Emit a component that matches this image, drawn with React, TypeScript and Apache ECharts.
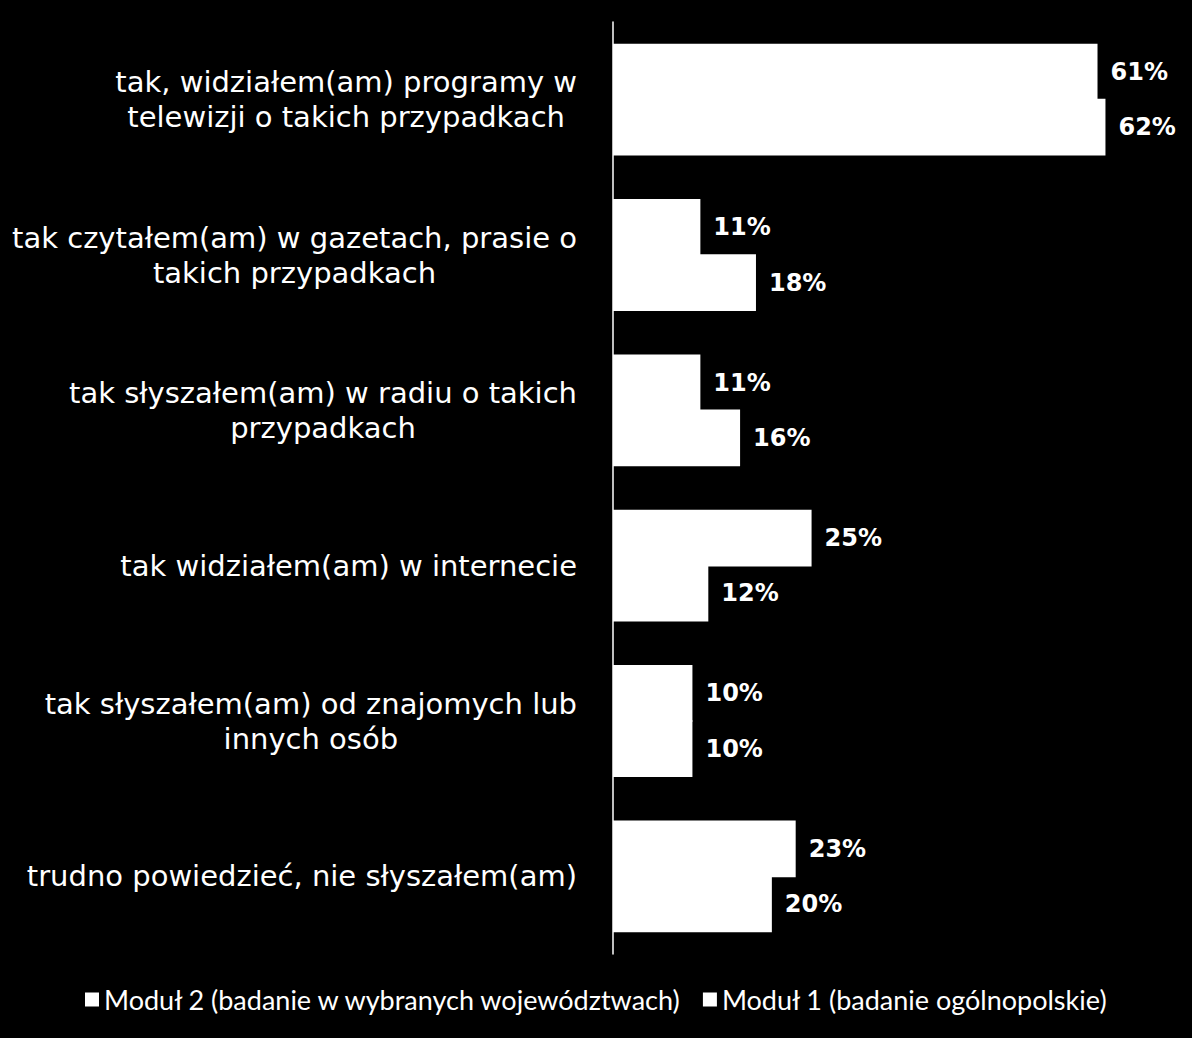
import { useEffect, useRef } from "react";
import * as echarts from "echarts";

const categories = [
  "tak, widziałem(am) programy w\ntelewizji o takich przypadkach",
  "tak czytałem(am) w gazetach, prasie o\ntakich przypadkach",
  "tak słyszałem(am) w radiu o takich\nprzypadkach",
  "tak widziałem(am) w internecie",
  "tak słyszałem(am) od znajomych lub\ninnych osób",
  "trudno powiedzieć, nie słyszałem(am)",
];
const modul2 = [61, 11, 11, 25, 10, 23];
const modul1 = [62, 18, 16, 12, 10, 20];
const seriesNames = [
  "Moduł 2 (badanie w wybranych województwach)",
  "Moduł 1 (badanie ogólnopolskie)",
];

const App = () => {
  const chartRef = useRef<HTMLDivElement>(null);

  useEffect(() => {
    const chart = echarts.init(chartRef.current!, null, { renderer: "svg" });
    const valueLabel = {
      show: true,
      position: "right" as const,
      distance: 13,
      color: "#fff",
      fontFamily: "DejaVu Sans",
      fontWeight: "bold" as const,
      fontSize: 24,
      formatter: "{c}%",
    };
    // slight overlap so the two white bars of a group merge without a seam
    const barStyle = { color: "#fff" };
    chart.setOption({
      animation: false,
      backgroundColor: "#000",
      grid: { left: 613, right: 23, top: 22, bottom: 84 },
      legend: {
        bottom: 20,
        left: 80,
        itemWidth: 14,
        itemHeight: 14,
        itemGap: 20,
        icon: "rect",
        textStyle: { color: "#fff", fontFamily: "Lato", fontSize: 27 },
        data: seriesNames,
      },
      xAxis: { type: "value", min: 0, max: 70, show: false },
      yAxis: {
        type: "category",
        inverse: true,
        data: categories,
        axisLine: { show: true, lineStyle: { color: "#fff", width: 1.5 } },
        axisTick: { show: false },
        axisLabel: {
          margin: 36,
          color: "#fff",
          fontFamily: "DejaVu Sans",
          fontSize: 29,
          lineHeight: 35,
          formatter: (v: string) =>
            v
              .split("\n")
              .map((l) => `{c|${l}}`)
              .join("\n"),
          rich: {
            c: {
              align: "center",
              color: "#fff",
              fontFamily: "DejaVu Sans",
              fontSize: 29,
              lineHeight: 35,
            },
          },
        },
      },
      series: [
        {
          name: seriesNames[0],
          type: "bar",
          data: modul2,
          barGap: "-3%",
          barCategoryGap: "28%",
          itemStyle: barStyle,
          label: valueLabel,
        },
        {
          name: seriesNames[1],
          type: "bar",
          data: modul1,
          barGap: "-3%",
          barCategoryGap: "28%",
          itemStyle: barStyle,
          label: valueLabel,
        },
      ],
    });
    return () => {
      chart.dispose();
    };
  }, []);

  return (
    <div
      ref={chartRef}
      style={{ position: "fixed", left: 0, top: 0, width: 1192, height: 1038, background: "#000" }}
    />
  );
};

export default App;
